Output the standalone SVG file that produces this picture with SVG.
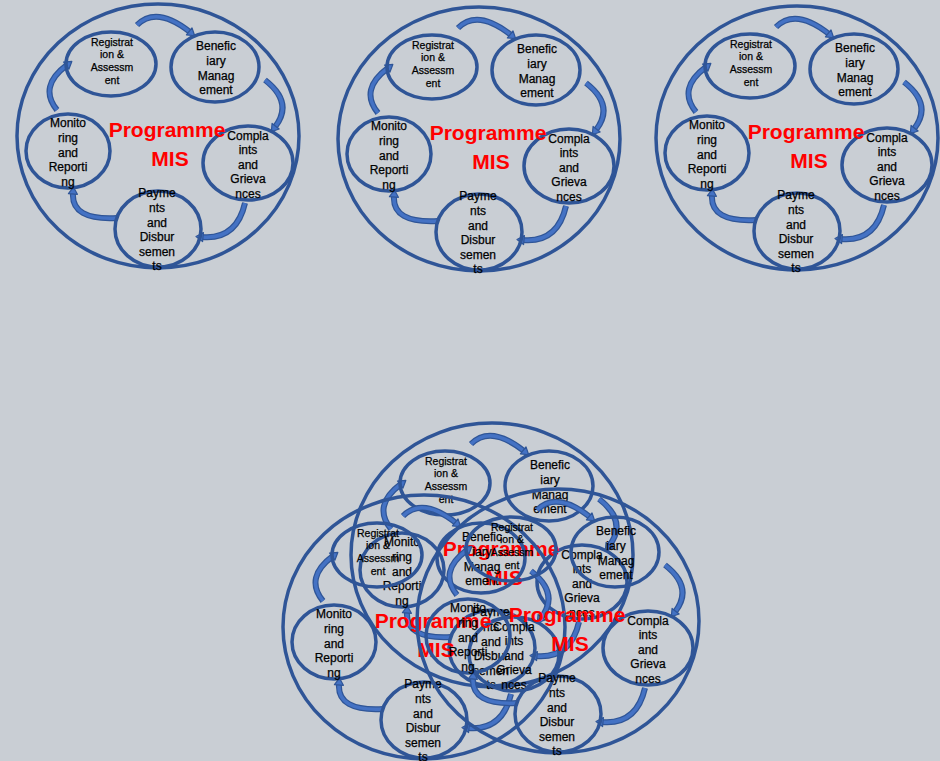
<svg xmlns="http://www.w3.org/2000/svg" width="940" height="761" viewBox="0 0 940 761">
<style>
.bg{fill:#C9CED4}
.outer{fill:none;stroke:#2F5597;stroke-width:3.5}
.node ellipse{fill:none;stroke:#2F5597;stroke-width:3.5}
.t{font-family:"Liberation Sans",Arial,sans-serif;font-size:12px;fill:#000;stroke:#000;stroke-width:0.25;text-anchor:middle}
.ts{font-size:10.5px}
.title{font-family:"Liberation Sans",Arial,sans-serif;font-weight:bold;font-size:21px;fill:#FF0000;text-anchor:middle}
.arwo{fill:none;stroke:#2F5597;stroke-width:6}
.arwi{fill:none;stroke:#4472C4;stroke-width:3.5;marker-end:url(#head)}
</style>
<defs>
<marker id="head" markerUnits="userSpaceOnUse" markerWidth="10" markerHeight="12" refX="0" refY="6" orient="auto" overflow="visible">
<path d="M-1,1.5 L6,6 L-1,10.5 z" fill="#4472C4" stroke="#2F5597" stroke-width="1.2" stroke-linejoin="round"/>
</marker>
</defs>
<rect class="bg" x="0" y="0" width="940" height="761"/>

<!-- Diagram 1 -->
<g id="d1" transform="translate(158,136)">
<ellipse class="outer" rx="141" ry="132"/>
<g id="d1-connectors">
<path class="arwo" d="M-21,-111 Q-1.5,-130.5 32,-104 M107,-56 Q136,-33.5 117,-9 M87,67 Q78.5,104 44,101 M-41,82 Q-87,84.5 -85,57 M-101,-26 Q-120,-49.5 -91,-71"/>
<path class="arwi" d="M-21,-111 Q-1.5,-130.5 32,-104"/>
<path class="arwi" d="M107,-56 Q136,-33.5 117,-9"/>
<path class="arwi" d="M87,67 Q78.5,104 44,101"/>
<path class="arwi" d="M-41,82 Q-87,84.5 -85,57"/>
<path class="arwi" d="M-101,-26 Q-120,-49.5 -91,-71"/>
</g>
<g id="d1-reg" class="node"><ellipse cx="-47" cy="-72" rx="45" ry="32"/><text class="t ts"><tspan x="-46" y="-90.5">Registrat</tspan><tspan x="-46" y="-78">ion &amp;</tspan><tspan x="-46" y="-65.5">Assessm</tspan><tspan x="-46" y="-52.5">ent</tspan></text></g>
<g id="d1-ben" class="node"><ellipse cx="57" cy="-69" rx="44" ry="35"/><text class="t"><tspan x="58" y="-86">Benefic</tspan><tspan x="58" y="-71">iary</tspan><tspan x="58" y="-56.5">Manag</tspan><tspan x="58" y="-42">ement</tspan></text></g>
<g id="d1-com" class="node"><ellipse cx="90" cy="27" rx="45" ry="37"/><text class="t"><tspan x="90" y="3.5">Compla</tspan><tspan x="90" y="17.5">ints</tspan><tspan x="90" y="32.5">and</tspan><tspan x="90" y="46.5">Grieva</tspan><tspan x="90" y="61.5">nces</tspan></text></g>
<g id="d1-pay" class="node"><ellipse cx="0" cy="93" rx="43" ry="38"/><text class="t"><tspan x="-1" y="61">Payme</tspan><tspan x="-1" y="75.5">nts</tspan><tspan x="-1" y="90.5">and</tspan><tspan x="-1" y="105">Disbur</tspan><tspan x="-1" y="120">semen</tspan><tspan x="-1" y="134">ts</tspan></text></g>
<g id="d1-mon" class="node"><ellipse cx="-90" cy="15" rx="42" ry="37"/><text class="t"><tspan x="-90" y="-9">Monito</tspan><tspan x="-90" y="6">ring</tspan><tspan x="-90" y="20.5">and</tspan><tspan x="-90" y="35">Reporti</tspan><tspan x="-90" y="50">ng</tspan></text></g>
<g id="d1-title"><text class="title" x="9" y="1">Programme</text><text class="title" x="12" y="30">MIS</text></g>
</g>

<!-- Diagram 2 -->
<g id="d2" transform="translate(479,139)">
<ellipse class="outer" rx="141" ry="132"/>
<g id="d2-connectors">
<path class="arwo" d="M-21,-111 Q-1.5,-130.5 32,-104 M107,-56 Q136,-33.5 117,-9 M87,67 Q78.5,104 44,101 M-41,82 Q-87,84.5 -85,57 M-101,-26 Q-120,-49.5 -91,-71"/>
<path class="arwi" d="M-21,-111 Q-1.5,-130.5 32,-104"/>
<path class="arwi" d="M107,-56 Q136,-33.5 117,-9"/>
<path class="arwi" d="M87,67 Q78.5,104 44,101"/>
<path class="arwi" d="M-41,82 Q-87,84.5 -85,57"/>
<path class="arwi" d="M-101,-26 Q-120,-49.5 -91,-71"/>
</g>
<g id="d2-reg" class="node"><ellipse cx="-47" cy="-72" rx="45" ry="32"/><text class="t ts"><tspan x="-46" y="-90.5">Registrat</tspan><tspan x="-46" y="-78">ion &amp;</tspan><tspan x="-46" y="-65.5">Assessm</tspan><tspan x="-46" y="-52.5">ent</tspan></text></g>
<g id="d2-ben" class="node"><ellipse cx="57" cy="-69" rx="44" ry="35"/><text class="t"><tspan x="58" y="-86">Benefic</tspan><tspan x="58" y="-71">iary</tspan><tspan x="58" y="-56.5">Manag</tspan><tspan x="58" y="-42">ement</tspan></text></g>
<g id="d2-com" class="node"><ellipse cx="90" cy="27" rx="45" ry="37"/><text class="t"><tspan x="90" y="3.5">Compla</tspan><tspan x="90" y="17.5">ints</tspan><tspan x="90" y="32.5">and</tspan><tspan x="90" y="46.5">Grieva</tspan><tspan x="90" y="61.5">nces</tspan></text></g>
<g id="d2-pay" class="node"><ellipse cx="0" cy="93" rx="43" ry="38"/><text class="t"><tspan x="-1" y="61">Payme</tspan><tspan x="-1" y="75.5">nts</tspan><tspan x="-1" y="90.5">and</tspan><tspan x="-1" y="105">Disbur</tspan><tspan x="-1" y="120">semen</tspan><tspan x="-1" y="134">ts</tspan></text></g>
<g id="d2-mon" class="node"><ellipse cx="-90" cy="15" rx="42" ry="37"/><text class="t"><tspan x="-90" y="-9">Monito</tspan><tspan x="-90" y="6">ring</tspan><tspan x="-90" y="20.5">and</tspan><tspan x="-90" y="35">Reporti</tspan><tspan x="-90" y="50">ng</tspan></text></g>
<g id="d2-title"><text class="title" x="9" y="1">Programme</text><text class="title" x="12" y="30">MIS</text></g>
</g>

<!-- Diagram 3 -->
<g id="d3" transform="translate(797,138)">
<ellipse class="outer" rx="141" ry="132"/>
<g id="d3-connectors">
<path class="arwo" d="M-21,-111 Q-1.5,-130.5 32,-104 M107,-56 Q136,-33.5 117,-9 M87,67 Q78.5,104 44,101 M-41,82 Q-87,84.5 -85,57 M-101,-26 Q-120,-49.5 -91,-71"/>
<path class="arwi" d="M-21,-111 Q-1.5,-130.5 32,-104"/>
<path class="arwi" d="M107,-56 Q136,-33.5 117,-9"/>
<path class="arwi" d="M87,67 Q78.5,104 44,101"/>
<path class="arwi" d="M-41,82 Q-87,84.5 -85,57"/>
<path class="arwi" d="M-101,-26 Q-120,-49.5 -91,-71"/>
</g>
<g id="d3-reg" class="node"><ellipse cx="-47" cy="-72" rx="45" ry="32"/><text class="t ts"><tspan x="-46" y="-90.5">Registrat</tspan><tspan x="-46" y="-78">ion &amp;</tspan><tspan x="-46" y="-65.5">Assessm</tspan><tspan x="-46" y="-52.5">ent</tspan></text></g>
<g id="d3-ben" class="node"><ellipse cx="57" cy="-69" rx="44" ry="35"/><text class="t"><tspan x="58" y="-86">Benefic</tspan><tspan x="58" y="-71">iary</tspan><tspan x="58" y="-56.5">Manag</tspan><tspan x="58" y="-42">ement</tspan></text></g>
<g id="d3-com" class="node"><ellipse cx="90" cy="27" rx="45" ry="37"/><text class="t"><tspan x="90" y="3.5">Compla</tspan><tspan x="90" y="17.5">ints</tspan><tspan x="90" y="32.5">and</tspan><tspan x="90" y="46.5">Grieva</tspan><tspan x="90" y="61.5">nces</tspan></text></g>
<g id="d3-pay" class="node"><ellipse cx="0" cy="93" rx="43" ry="38"/><text class="t"><tspan x="-1" y="61">Payme</tspan><tspan x="-1" y="75.5">nts</tspan><tspan x="-1" y="90.5">and</tspan><tspan x="-1" y="105">Disbur</tspan><tspan x="-1" y="120">semen</tspan><tspan x="-1" y="134">ts</tspan></text></g>
<g id="d3-mon" class="node"><ellipse cx="-90" cy="15" rx="42" ry="37"/><text class="t"><tspan x="-90" y="-9">Monito</tspan><tspan x="-90" y="6">ring</tspan><tspan x="-90" y="20.5">and</tspan><tspan x="-90" y="35">Reporti</tspan><tspan x="-90" y="50">ng</tspan></text></g>
<g id="d3-title"><text class="title" x="9" y="1">Programme</text><text class="title" x="12" y="30">MIS</text></g>
</g>

<!-- Composite copy A (top) -->
<g id="d4" transform="translate(492,555)">
<ellipse class="outer" rx="141" ry="132"/>
<g id="d4-connectors">
<path class="arwo" d="M-21,-111 Q-1.5,-130.5 32,-104 M107,-56 Q136,-33.5 117,-9 M87,67 Q78.5,104 44,101 M-41,82 Q-87,84.5 -85,57 M-101,-26 Q-120,-49.5 -91,-71"/>
<path class="arwi" d="M-21,-111 Q-1.5,-130.5 32,-104"/>
<path class="arwi" d="M107,-56 Q136,-33.5 117,-9"/>
<path class="arwi" d="M87,67 Q78.5,104 44,101"/>
<path class="arwi" d="M-41,82 Q-87,84.5 -85,57"/>
<path class="arwi" d="M-101,-26 Q-120,-49.5 -91,-71"/>
</g>
<g id="d4-reg" class="node"><ellipse cx="-47" cy="-72" rx="45" ry="32"/><text class="t ts"><tspan x="-46" y="-90.5">Registrat</tspan><tspan x="-46" y="-78">ion &amp;</tspan><tspan x="-46" y="-65.5">Assessm</tspan><tspan x="-46" y="-52.5">ent</tspan></text></g>
<g id="d4-ben" class="node"><ellipse cx="57" cy="-69" rx="44" ry="35"/><text class="t"><tspan x="58" y="-86">Benefic</tspan><tspan x="58" y="-71">iary</tspan><tspan x="58" y="-56.5">Manag</tspan><tspan x="58" y="-42">ement</tspan></text></g>
<g id="d4-com" class="node"><ellipse cx="90" cy="27" rx="45" ry="37"/><text class="t"><tspan x="90" y="3.5">Compla</tspan><tspan x="90" y="17.5">ints</tspan><tspan x="90" y="32.5">and</tspan><tspan x="90" y="46.5">Grieva</tspan><tspan x="90" y="61.5">nces</tspan></text></g>
<g id="d4-pay" class="node"><ellipse cx="0" cy="93" rx="43" ry="38"/><text class="t"><tspan x="-1" y="61">Payme</tspan><tspan x="-1" y="75.5">nts</tspan><tspan x="-1" y="90.5">and</tspan><tspan x="-1" y="105">Disbur</tspan><tspan x="-1" y="120">semen</tspan><tspan x="-1" y="134">ts</tspan></text></g>
<g id="d4-mon" class="node"><ellipse cx="-90" cy="15" rx="42" ry="37"/><text class="t"><tspan x="-90" y="-9">Monito</tspan><tspan x="-90" y="6">ring</tspan><tspan x="-90" y="20.5">and</tspan><tspan x="-90" y="35">Reporti</tspan><tspan x="-90" y="50">ng</tspan></text></g>
<g id="d4-title"><text class="title" x="9" y="1">Programme</text><text class="title" x="12" y="30">MIS</text></g>
</g>

<!-- Composite copy B (left) -->
<g id="d5" transform="translate(424,627)">
<ellipse class="outer" rx="141" ry="132"/>
<g id="d5-connectors">
<path class="arwo" d="M-21,-111 Q-1.5,-130.5 32,-104 M107,-56 Q136,-33.5 117,-9 M87,67 Q78.5,104 44,101 M-41,82 Q-87,84.5 -85,57 M-101,-26 Q-120,-49.5 -91,-71"/>
<path class="arwi" d="M-21,-111 Q-1.5,-130.5 32,-104"/>
<path class="arwi" d="M107,-56 Q136,-33.5 117,-9"/>
<path class="arwi" d="M87,67 Q78.5,104 44,101"/>
<path class="arwi" d="M-41,82 Q-87,84.5 -85,57"/>
<path class="arwi" d="M-101,-26 Q-120,-49.5 -91,-71"/>
</g>
<g id="d5-reg" class="node"><ellipse cx="-47" cy="-72" rx="45" ry="32"/><text class="t ts"><tspan x="-46" y="-90.5">Registrat</tspan><tspan x="-46" y="-78">ion &amp;</tspan><tspan x="-46" y="-65.5">Assessm</tspan><tspan x="-46" y="-52.5">ent</tspan></text></g>
<g id="d5-ben" class="node"><ellipse cx="57" cy="-69" rx="44" ry="35"/><text class="t"><tspan x="58" y="-86">Benefic</tspan><tspan x="58" y="-71">iary</tspan><tspan x="58" y="-56.5">Manag</tspan><tspan x="58" y="-42">ement</tspan></text></g>
<g id="d5-com" class="node"><ellipse cx="90" cy="27" rx="45" ry="37"/><text class="t"><tspan x="90" y="3.5">Compla</tspan><tspan x="90" y="17.5">ints</tspan><tspan x="90" y="32.5">and</tspan><tspan x="90" y="46.5">Grieva</tspan><tspan x="90" y="61.5">nces</tspan></text></g>
<g id="d5-pay" class="node"><ellipse cx="0" cy="93" rx="43" ry="38"/><text class="t"><tspan x="-1" y="61">Payme</tspan><tspan x="-1" y="75.5">nts</tspan><tspan x="-1" y="90.5">and</tspan><tspan x="-1" y="105">Disbur</tspan><tspan x="-1" y="120">semen</tspan><tspan x="-1" y="134">ts</tspan></text></g>
<g id="d5-mon" class="node"><ellipse cx="-90" cy="15" rx="42" ry="37"/><text class="t"><tspan x="-90" y="-9">Monito</tspan><tspan x="-90" y="6">ring</tspan><tspan x="-90" y="20.5">and</tspan><tspan x="-90" y="35">Reporti</tspan><tspan x="-90" y="50">ng</tspan></text></g>
<g id="d5-title"><text class="title" x="9" y="1">Programme</text><text class="title" x="12" y="30">MIS</text></g>
</g>

<!-- Composite copy C (right) -->
<g id="d6" transform="translate(558,621)">
<ellipse class="outer" rx="141" ry="132"/>
<g id="d6-connectors">
<path class="arwo" d="M-21,-111 Q-1.5,-130.5 32,-104 M107,-56 Q136,-33.5 117,-9 M87,67 Q78.5,104 44,101 M-41,82 Q-87,84.5 -85,57 M-101,-26 Q-120,-49.5 -91,-71"/>
<path class="arwi" d="M-21,-111 Q-1.5,-130.5 32,-104"/>
<path class="arwi" d="M107,-56 Q136,-33.5 117,-9"/>
<path class="arwi" d="M87,67 Q78.5,104 44,101"/>
<path class="arwi" d="M-41,82 Q-87,84.5 -85,57"/>
<path class="arwi" d="M-101,-26 Q-120,-49.5 -91,-71"/>
</g>
<g id="d6-reg" class="node"><ellipse cx="-47" cy="-72" rx="45" ry="32"/><text class="t ts"><tspan x="-46" y="-90.5">Registrat</tspan><tspan x="-46" y="-78">ion &amp;</tspan><tspan x="-46" y="-65.5">Assessm</tspan><tspan x="-46" y="-52.5">ent</tspan></text></g>
<g id="d6-ben" class="node"><ellipse cx="57" cy="-69" rx="44" ry="35"/><text class="t"><tspan x="58" y="-86">Benefic</tspan><tspan x="58" y="-71">iary</tspan><tspan x="58" y="-56.5">Manag</tspan><tspan x="58" y="-42">ement</tspan></text></g>
<g id="d6-com" class="node"><ellipse cx="90" cy="27" rx="45" ry="37"/><text class="t"><tspan x="90" y="3.5">Compla</tspan><tspan x="90" y="17.5">ints</tspan><tspan x="90" y="32.5">and</tspan><tspan x="90" y="46.5">Grieva</tspan><tspan x="90" y="61.5">nces</tspan></text></g>
<g id="d6-pay" class="node"><ellipse cx="0" cy="93" rx="43" ry="38"/><text class="t"><tspan x="-1" y="61">Payme</tspan><tspan x="-1" y="75.5">nts</tspan><tspan x="-1" y="90.5">and</tspan><tspan x="-1" y="105">Disbur</tspan><tspan x="-1" y="120">semen</tspan><tspan x="-1" y="134">ts</tspan></text></g>
<g id="d6-mon" class="node"><ellipse cx="-90" cy="15" rx="42" ry="37"/><text class="t"><tspan x="-90" y="-9">Monito</tspan><tspan x="-90" y="6">ring</tspan><tspan x="-90" y="20.5">and</tspan><tspan x="-90" y="35">Reporti</tspan><tspan x="-90" y="50">ng</tspan></text></g>
<g id="d6-title"><text class="title" x="9" y="1">Programme</text><text class="title" x="12" y="30">MIS</text></g>
</g>
</svg>
